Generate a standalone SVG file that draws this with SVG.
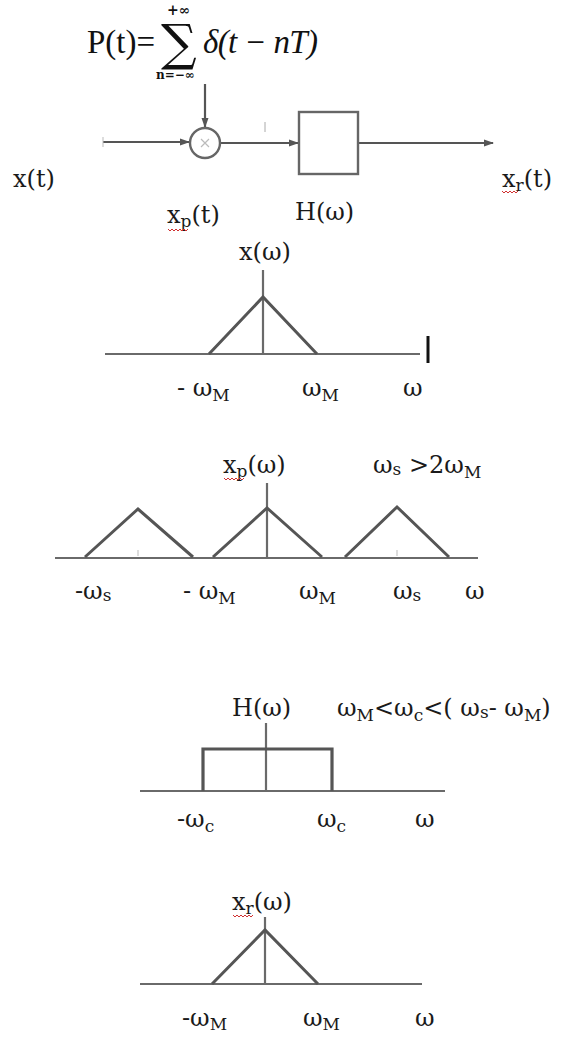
<svg xmlns="http://www.w3.org/2000/svg" width="568" height="1043" viewBox="0 0 568 1043">
<style>
.t{font-family:"DejaVu Serif","Liberation Serif",serif;font-size:24px;fill:#1a1a1a}
.s{font-size:17px}
.f{font-family:"Liberation Serif","Times New Roman",serif;font-size:33px;fill:#111}
.fi{font-style:italic}
.ln{stroke:#555;stroke-width:2.2;fill:none}
.ax{stroke:#6a6a6a;stroke-width:2.2;fill:none}
.tr{stroke:#555;stroke-width:3;fill:none;stroke-linejoin:miter}
.sq{stroke:#d03030;stroke-width:1;fill:none}
</style>
<defs>
<marker id="ah" markerWidth="10" markerHeight="8" refX="9" refY="4" orient="auto" markerUnits="userSpaceOnUse">
<path d="M0,0.5 L10,4 L0,7.5 Z" fill="#555"/>
</marker>
</defs>
<rect width="568" height="1043" fill="#fff"/>

<g id="formula">
<text class="f" x="87" y="53">P(t)=</text>
<text x="161" y="60" style="font-family:'DejaVu Serif',serif;font-size:50px;fill:#111">∑</text>
<text x="167" y="15" style="font-family:'DejaVu Serif',serif;font-size:14px;font-weight:bold;fill:#111">+∞</text>
<text x="156" y="79" style="font-family:'DejaVu Serif',serif;font-size:12px;font-weight:bold;fill:#111">n=−∞</text>
<text class="f fi" x="203" y="53" textLength="115">δ(t − nT)</text>
</g>

<g id="connectors">
<line class="ln" x1="103" y1="142" x2="189" y2="142" marker-end="url(#ah)"/>
<line class="ln" x1="205" y1="84" x2="205" y2="127" marker-end="url(#ah)"/>
<line class="ln" x1="220" y1="143" x2="298" y2="143" marker-end="url(#ah)"/>
<line class="ln" x1="358" y1="143" x2="493" y2="143" marker-end="url(#ah)"/>
<line x1="103" y1="137" x2="103" y2="147" stroke="#bbb" stroke-width="1"/>
<line x1="265" y1="122" x2="265" y2="132" stroke="#aaa" stroke-width="1"/>
</g>

<g id="multiplier">
<circle cx="205" cy="143" r="15" fill="#fff" stroke="#666" stroke-width="2.4"/>
<path d="M201,139 L209,147 M209,139 L201,147" stroke="#bbb" stroke-width="1.2"/>
</g>

<g id="filter">
<rect x="299" y="112" width="59" height="62" fill="#fff" stroke="#666" stroke-width="2.4"/>
</g>

<g id="labels-block">
<text class="t" x="13" y="187">x(t)</text>
<text class="t" x="502" y="187">x<tspan class="s" dy="4">r</tspan><tspan dy="-4">(t)</tspan></text>
<path class="sq" d="M502,191 l2,2 l2,-2 l2,2 l2,-2 l2,2 l2,-2 l2,2 l2,-2"/>
<text class="t" x="167" y="223">x<tspan class="s" dy="4">p</tspan><tspan dy="-4">(t)</tspan></text>
<path class="sq" d="M168,229 l2,2 l2,-2 l2,2 l2,-2 l2,2 l2,-2 l2,2 l2,-2 l2,2 l2,-2"/>
<text class="t" x="295" y="220">H(ω)</text>
</g>

<g id="spectrum-x">
<text class="t" x="239" y="260">x(ω)</text>
<line class="ax" x1="105" y1="354" x2="420" y2="354"/>
<line class="ax" x1="263" y1="270" x2="263" y2="354"/>
<polyline class="tr" points="209,354 263,297 317,354"/>
<line x1="428" y1="336" x2="428" y2="363" stroke="#111" stroke-width="3"/>
<text class="t" x="177" y="396">- ω<tspan class="s" dy="5">M</tspan></text>
<text class="t" x="302" y="396">ω<tspan class="s" dy="5">M</tspan></text>
<text class="t" x="403" y="396">ω</text>
</g>

<g id="spectrum-xp">
<text class="t" x="223" y="473">x<tspan class="s" dy="4">p</tspan><tspan dy="-4">(ω)</tspan></text>
<path class="sq" d="M224,478 l2,2 l2,-2 l2,2 l2,-2 l2,2 l2,-2 l2,2 l2,-2 l2,2 l2,-2"/>
<text class="t" x="373" y="473">ω<tspan class="s" dy="2">s</tspan><tspan dy="-2"> &gt;2ω</tspan><tspan class="s" dy="5">M</tspan></text>
<line class="ax" x1="55" y1="558" x2="478" y2="558"/>
<line class="ax" x1="267" y1="483" x2="267" y2="558"/>
<polyline class="tr" points="85,557 138,509 193,557"/>
<polyline class="tr" points="213,557 267,508 322,557"/>
<polyline class="tr" points="345,557 397,507 449,557"/>
<line x1="138" y1="550" x2="138" y2="556" stroke="#bbb" stroke-width="1"/>
<line x1="397" y1="550" x2="397" y2="556" stroke="#bbb" stroke-width="1"/>
<text class="t" x="75" y="599">-ω<tspan class="s" dy="2">s</tspan></text>
<text class="t" x="183" y="599">- ω<tspan class="s" dy="5">M</tspan></text>
<text class="t" x="299" y="599">ω<tspan class="s" dy="5">M</tspan></text>
<text class="t" x="393" y="599">ω<tspan class="s" dy="2">s</tspan></text>
<text class="t" x="465" y="599">ω</text>
</g>

<g id="spectrum-h">
<text class="t" x="232" y="716">H(ω)</text>
<text class="t" x="337" y="716">ω<tspan class="s" dy="5">M</tspan><tspan dy="-5">&lt;ω</tspan><tspan class="s" dy="5">c</tspan><tspan dy="-5">&lt;( ω</tspan><tspan class="s" dy="2">s</tspan><tspan dy="-2">-  ω</tspan><tspan class="s" dy="5">M</tspan><tspan dy="-5">)</tspan></text>
<line class="ax" x1="140" y1="791" x2="445" y2="791"/>
<line class="ax" x1="266" y1="723" x2="266" y2="791"/>
<polyline points="203,791 203,749 332,749 332,791" stroke="#555" stroke-width="3.2" fill="none"/>
<text class="t" x="177" y="827">-ω<tspan class="s" dy="5">c</tspan></text>
<text class="t" x="317" y="827">ω<tspan class="s" dy="5">c</tspan></text>
<text class="t" x="415" y="827">ω</text>
</g>

<g id="spectrum-xr">
<text class="t" x="232" y="910">x<tspan class="s" dy="4">r</tspan><tspan dy="-4">(ω)</tspan></text>
<path class="sq" d="M233,915 l2,2 l2,-2 l2,2 l2,-2 l2,2 l2,-2 l2,2 l2,-2 l2,2 l2,-2"/>
<line class="ax" x1="140" y1="984" x2="422" y2="984"/>
<line class="ax" x1="265" y1="917" x2="265" y2="984"/>
<polyline class="tr" points="212,984 265,930 318,984"/>
<text class="t" x="182" y="1026">-ω<tspan class="s" dy="4">M</tspan></text>
<text class="t" x="303" y="1026">ω<tspan class="s" dy="4">M</tspan></text>
<text class="t" x="415" y="1026">ω</text>
</g>
</svg>
